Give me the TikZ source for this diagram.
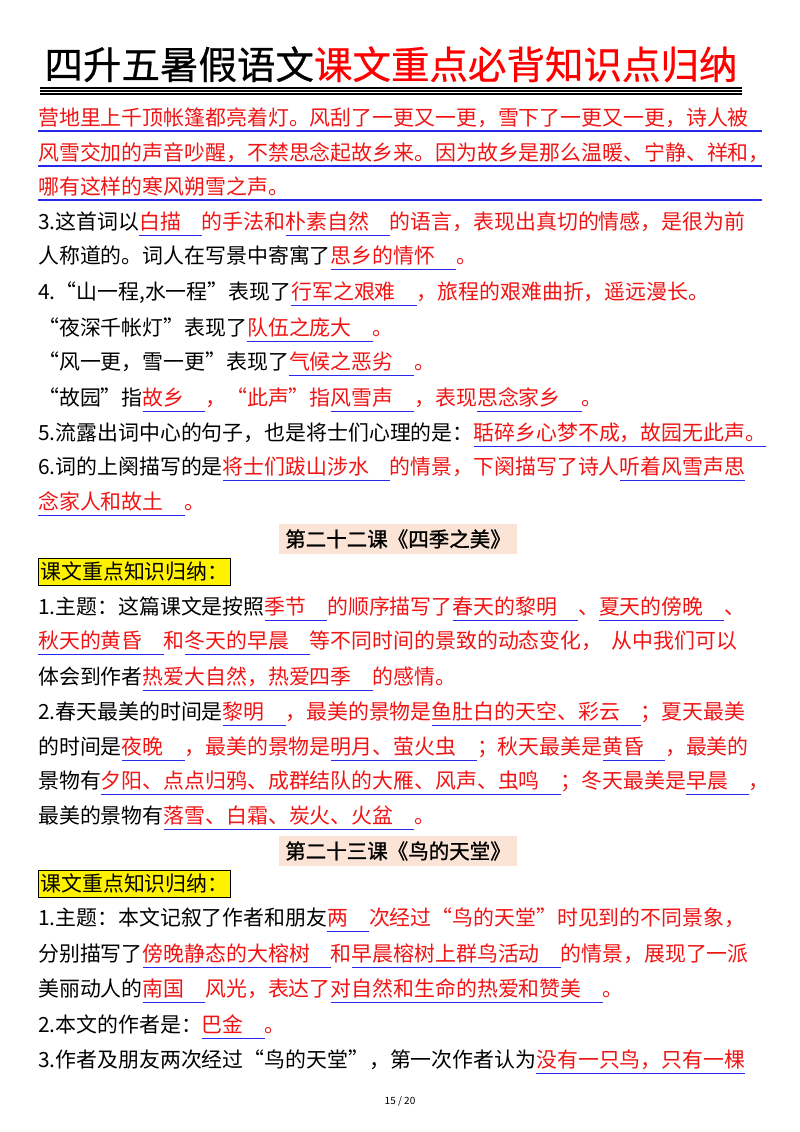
\documentclass[tikz,border=0pt]{standalone}
\usepackage{fontspec}
\setmainfont{Noto Sans CJK SC}
\newfontfamily\boldcjk[FakeBold=1.2]{Noto Sans CJK SC}
\newfontfamily\titlecjk[FakeBold=0.6]{Noto Sans CJK SC}
\definecolor{ansred}{RGB}{240,20,20}
\definecolor{ulblue}{RGB}{40,40,235}
\definecolor{peach}{RGB}{251,228,213}
\newcommand\ans[2][1em]{\setbox0\hbox{\color{ansred}#2\hspace{#1}}\rlap{\color{ulblue}\rule[-7pt]{\wd0}{1.2pt}}\box0}
\tikzset{ln/.style={anchor=base west,inner sep=0pt,font=\fontsize{20.9}{24}\selectfont}}
\begin{document}
\begin{tikzpicture}[x=1pt,y=-1pt]
\useasboundingbox (0,0) rectangle (800,1132);
\node[anchor=base,inner sep=0pt,font=\fontsize{38.5}{44}\selectfont\titlecjk] (title) at (391,79) {四升五暑假语文\textcolor{red}{课文重点必背知识点归纳}};
\foreach \yy in {88,91,94} \draw[line width=1.1pt] (40,\yy) -- (742,\yy);
\node[ln,text=ansred] (a1) at (38,125) {营地里上千顶帐篷都亮着灯。风刮了一更又一更，雪下了一更又一更，诗人被};
\node[ln,text=ansred] (a2) at (38,160) {风雪交加的声音吵醒，不禁思念起故乡来。因为故乡是那么温暖、宁静、祥和，};
\node[ln,text=ansred] (a3) at (38,194) {哪有这样的寒风朔雪之声。};
\foreach \yy in {131,166,200} \draw[ulblue,line width=1.4pt] (38,\yy) -- (762,\yy);
\node[ln] (b1) at (38,229) {3.这首词以\ans{白描}的手法和\ans{朴素自然}的语言，表现出真切的情感，是很为前};
\node[ln] (b2) at (38,263) {人称道的。词人在写景中寄寓了\ans{思乡的情怀}。};
\node[ln] (b3) at (38,299) {4.“山一程,水一程”表现了\ans{行军之艰难}，旅程的艰难曲折，遥远漫长。};
\node[ln] (b4) at (38,335) {“夜深千帐灯”表现了\ans{队伍之庞大}。};
\node[ln] (b5) at (38,369) {“风一更，雪一更”表现了\ans{气候之恶劣}。};
\node[ln] (b6) at (38,405) {“故园”指\ans{故乡}，“此声”指\ans{风雪声}，表现\ans{思念家乡}。};
\node[ln] (b7) at (38,440) {5.流露出词中心的句子，也是将士们心理的是：\ans[0pt]{聒碎乡心梦不成，故园无此声。}};
\node[ln] (b8) at (38,474) {6.词的上阕描写的是\ans{将士们跋山涉水}的情景，下阕描写了诗人\ans[0pt]{听着风雪声思}};
\node[ln] (b9) at (38,509) {\ans{念家人和故土}。};
\node[anchor=center,fill=peach,inner xsep=6pt,inner ysep=5pt,font=\fontsize{20.5}{24}\selectfont\boldcjk] (h1) at (398,539) {第二十二课《四季之美》};
\node[anchor=west,fill=yellow,draw=black,line width=0.8pt,inner xsep=2pt,inner ysep=4pt,font=\fontsize{20.9}{24}\selectfont] (k1) at (38,572) {课文重点知识归纳：};
\node[ln] (c1) at (38,614) {1.主题：这篇课文是按照\ans{季节}的顺序描写了\ans{春天的黎明}、\ans{夏天的傍晚}、};
\node[ln] (c2) at (38,648) {\ans{秋天的黄昏}和\ans{冬天的早晨}等不同时间的景致的动态变化，\ \ 从中我们可以};
\node[ln] (c3) at (38,684) {体会到作者\ans{热爱大自然，热爱四季}的感情。};
\node[ln] (c4) at (38,719) {2.春天最美的时间是\ans{黎明}，最美的景物是\ans{鱼肚白的天空、彩云}；夏天最美};
\node[ln] (c5) at (38,754) {的时间是\ans{夜晚}，最美的景物是\ans{明月、萤火虫}；秋天最美是\ans{黄昏}，最美的};
\node[ln] (c6) at (38,788) {景物有\ans{夕阳、点点归鸦、成群结队的大雁、风声、虫鸣}；冬天最美是\ans{早晨}，};
\node[ln] (c7) at (38,823) {最美的景物有\ans{落雪、白霜、炭火、火盆}。};
\node[anchor=center,fill=peach,inner xsep=6pt,inner ysep=5pt,font=\fontsize{20.5}{24}\selectfont\boldcjk] (h2) at (398,851) {第二十三课《鸟的天堂》};
\node[anchor=west,fill=yellow,draw=black,line width=0.8pt,inner xsep=2pt,inner ysep=4pt,font=\fontsize{20.9}{24}\selectfont] (k2) at (38,884) {课文重点知识归纳：};
\node[ln] (d1) at (38,925) {1.主题：本文记叙了作者和朋友\ans{两}次经过“鸟的天堂”时见到的不同景象，};
\node[ln] (d2) at (38,961) {分别描写了\ans{傍晚静态的大榕树}和\ans{早晨榕树上群鸟活动}的情景，展现了一派};
\node[ln] (d3) at (38,996) {美丽动人的\ans{南国}风光，表达了\ans{对自然和生命的热爱和赞美}。};
\node[ln] (d4) at (38,1032) {2.本文的作者是：\ans{巴金}。};
\node[ln] (d5) at (38,1067) {3.作者及朋友两次经过“鸟的天堂”，第一次作者认为\ans[0pt]{没有一只鸟，只有一棵}};
\node[anchor=center,font=\fontsize{10}{12}\selectfont] (pg) at (400,1101) {15 / 20};
\end{tikzpicture}
\end{document}
